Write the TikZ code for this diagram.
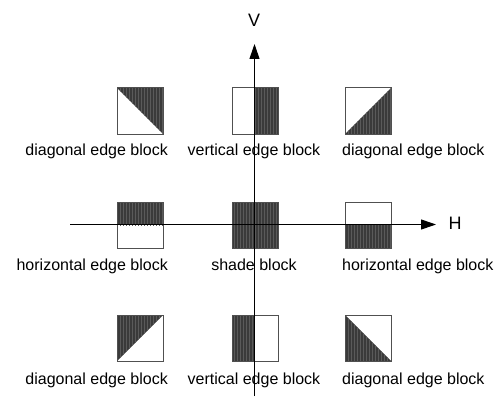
\documentclass[tikz,border=0pt]{standalone}
\usepackage{fontspec}
\setmainfont{Liberation Sans}
\usetikzlibrary{patterns,arrows.meta}
\definecolor{darkfill}{HTML}{3A3A3A}
\definecolor{stripe}{HTML}{5A5A5A}
\definecolor{edgecol}{HTML}{505050}
\begin{document}
\begin{tikzpicture}[x=1pt,y=-1pt,
  blockbox/.style={draw=edgecol,line width=1pt},
  darkpart/.style={fill=darkfill,postaction={pattern=vertical lines,pattern color=stripe}},
  axis/.style={line width=1pt,-{Triangle[length=15pt,width=10pt]}},
  lbl/.style={font=\fontsize{16}{18}\selectfont,inner sep=0pt},
  axlbl/.style={font=\fontsize{18}{20}\selectfont,inner sep=0pt}]
\useasboundingbox (0,0) rectangle (502,401);
% top-left: dark upper-right triangle
\path[darkpart] (117,88) -- (163,88) -- (163,134) -- cycle;
\draw[blockbox] (117,88) rectangle ++(46,46);
% top-middle: right half
\path[darkpart] (254.5,88) rectangle (278,134);
\draw[blockbox] (232,88) rectangle ++(46,46);
% top-right: lower-right triangle
\path[darkpart] (391,88) -- (391,134) -- (345,134) -- cycle;
\draw[blockbox] (345,88) rectangle ++(46,46);
% middle-left: top half
\path[darkpart] (117,202) rectangle (163,225);
\draw[blockbox] (117,202) rectangle ++(46,46);
% center: full
\path[darkpart] (232,202) rectangle ++(46,46);
\draw[blockbox] (232,202) rectangle ++(46,46);
% middle-right: bottom half
\path[darkpart] (345,225) rectangle (391,248);
\draw[blockbox] (345,202) rectangle ++(46,46);
% bottom-left: upper-left triangle
\path[darkpart] (117,315) -- (163,315) -- (117,361) -- cycle;
\draw[blockbox] (117,315) rectangle ++(46,46);
% bottom-middle: left half
\path[darkpart] (232,315) rectangle (254.5,361);
\draw[blockbox] (232,315) rectangle ++(46,46);
% bottom-right: lower-left triangle
\path[darkpart] (345,315) -- (345,361) -- (391,361) -- cycle;
\draw[blockbox] (345,315) rectangle ++(46,46);
% axes
\coordinate (vstart) at (254.5,396);
\coordinate (vend) at (254.5,44);
\coordinate (hstart) at (70,224.5);
\coordinate (hend) at (436,224.5);
\draw[axis] (vstart) -- (vend);
\draw[axis] (hstart) -- (hend);
\node[axlbl] (V) at (254,20) {V};
\node[axlbl] (H) at (455,223) {H};
% labels
\node[lbl,anchor=base east] (l1) at (168,155.5) {diagonal edge block};
\node[lbl,anchor=base] (l2) at (254,155.5) {vertical edge block};
\node[lbl,anchor=base west] (l3) at (342,155.5) {diagonal edge block};
\node[lbl,anchor=base east] (l4) at (168,270.5) {horizontal edge block};
\node[lbl,anchor=base] (l5) at (254,270.5) {shade block};
\node[lbl,anchor=base west] (l6) at (342,270.5) {horizontal edge block};
\node[lbl,anchor=base east] (l7) at (168,384) {diagonal edge block};
\node[lbl,anchor=base] (l8) at (254,384) {vertical edge block};
\node[lbl,anchor=base west] (l9) at (342,384) {diagonal edge block};
\end{tikzpicture}
\end{document}
